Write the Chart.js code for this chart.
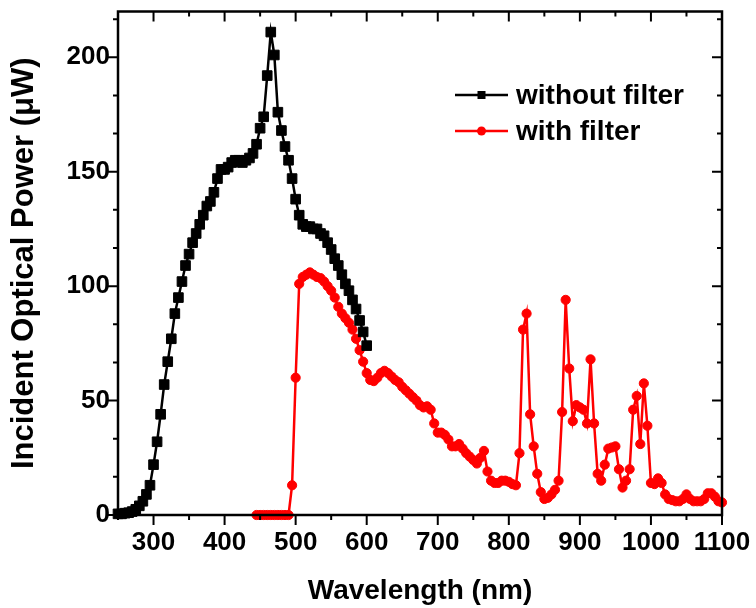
<!DOCTYPE html>
<html><head><meta charset="utf-8">
<script src="https://cdn.jsdelivr.net/npm/chart.js@4"></script>
<style>html,body{margin:0;padding:0;background:#fff;}#wrap{width:756px;height:608px;}</style>
</head><body><div id="wrap"><canvas id="c" width="756" height="608"></canvas></div>
<script>
// ---- data ----
const blackWavelength = [250,255,260,265,270,275,280,285,290,295,300,305,310,315,320,325,330,335,340,345,350,355,360,365,370,375,380,385,390,395,400,405,410,415,420,425,430,435,440,445,450,455,460,465,470,475,480,485,490,495,500,505,510,515,520,525,530,535,540,545,550,555,560,565,570,575,580,585,590,595,600];
const blackPower = [0.5,0.5,0.8,1,1.5,2.5,4,6,9,13,22,32,44,57,67,77,88,95,102,109,114,119,123,127,131,135,137,141,147,151,151,152,154,155,155,154,155,156,158,162,169,174,192,211,201,176,168,161,155,147,138,131,127,126,126,125,125,123,122,119,116,112,109,105,101,98,94,90,85,80,74];
const redWavelength = [445,450,455,460,465,470,475,480,485,490,495,500,505,510,515,520,525,530,535,540,545,550,555,560,565,570,575,580,585,590,595,600,605,610,615,620,625,630,635,640,645,650,655,660,665,670,675,680,685,690,695,700,705,710,715,720,725,730,735,740,745,750,755,760,765,770,775,780,785,790,795,800,805,810,815,820,825,830,835,840,845,850,855,860,865,870,875,880,885,890,895,900,905,910,915,920,925,930,935,940,945,950,955,960,965,970,975,980,985,990,995,1000,1005,1010,1015,1020,1025,1030,1035,1040,1045,1050,1055,1060,1065,1070,1075,1080,1085,1090,1095,1100];
const redPower = [0,0,0,0,0,0,0,0,0,0,13,60,101,104,105,106,105,104,103.5,102,100,98,95,91,88,86,84,81,77,72,67,62,59,58.5,60,62,63,62,60.5,59,58,56,54.5,53,51.5,50,48,47,47.5,46,40,36,36,35,33,30,30,31,29,27,25.5,24,22.5,25,28,19,15,14,14,15,15,14.5,13.5,13,27,81,88,44,30,18,10,7,7.5,9,11,15,45,94,64,41,48,47,46,40,68,40,18,15,22,29,29.5,30,20,12,15,20,46,52,31,57.5,39,14,13.5,16,14,9,7,6.5,6,6,7,9,7,6,6,6,7,9.5,9.5,8,6,5.5];
const seriesLabels = ['without filter', 'with filter'];
const xTickLabels = [300,400,500,600,700,800,900,1000,1100];
const yTickLabels = [0,50,100,150,200];
const xMin = 250, xMax = 1100, yMin = 0, yMax = 220;

const FONT = "'Liberation Sans', Arial, Helvetica, sans-serif";

const framePlugin = {
  id: 'frame',
  afterDatasetsDraw(chart) {
    const {ctx, chartArea: a, scales: {x, y}} = chart;
    ctx.save();
    ctx.strokeStyle = '#000';
    ctx.lineWidth = 2.5;
    ctx.lineCap = 'butt';
    ctx.strokeRect(a.left, a.top, a.right - a.left, a.bottom - a.top);
    ctx.lineWidth = 2;
    ctx.beginPath();
    for (let v = xMin; v <= xMax + 0.01; v += 50) {
      const px = x.getPixelForValue(v);
      const len = (v % 100 === 0) ? 10 : 5;
      ctx.moveTo(px, a.bottom); ctx.lineTo(px, a.bottom + len);
      ctx.moveTo(px, a.top); ctx.lineTo(px, a.top + len);
    }
    for (let i = 0; i * 50 / 3 <= yMax + 0.01; i++) {
      const v = i * 50 / 3;
      const py = y.getPixelForValue(v);
      const len = (i % 3 === 0) ? 10 : 5;
      ctx.moveTo(a.left, py); ctx.lineTo(a.left - len, py);
      ctx.moveTo(a.right, py); ctx.lineTo(a.right - len, py);
    }
    ctx.stroke();
    ctx.restore();
  }
};

const legendPlugin = {
  id: 'customLegend',
  afterDraw(chart) {
    const {ctx} = chart;
    const rows = [95, 131];
    ctx.save();
    chart.data.datasets.forEach((ds, i) => {
      const yy = rows[i];
      ctx.strokeStyle = ds.borderColor;
      ctx.lineWidth = 2.5;
      ctx.beginPath(); ctx.moveTo(455, yy); ctx.lineTo(508, yy); ctx.stroke();
      ctx.fillStyle = ds.pointBackgroundColor;
      if (ds.pointStyle === 'rect') {
        ctx.fillRect(481.5 - 4, yy - 4, 8, 8);
      } else {
        ctx.beginPath(); ctx.arc(481.5, yy, 4.5, 0, Math.PI * 2); ctx.fill();
      }
      ctx.fillStyle = '#000';
      ctx.font = "bold 28px " + FONT;
      ctx.textBaseline = 'middle';
      ctx.textAlign = 'left';
      ctx.fillText(ds.label, 516, yy + 1);
    });
    ctx.restore();
  }
};

new Chart(document.getElementById('c'), {
  type: 'line',
  data: {
    datasets: [
      {
        label: seriesLabels[0],
        data: blackWavelength.map((w, i) => ({x: w, y: blackPower[i]})),
        borderColor: '#000', backgroundColor: '#000',
        pointBackgroundColor: '#000', pointBorderColor: '#000',
        pointStyle: 'rect', pointRadius: 6.8, pointBorderWidth: 1,
        borderWidth: 2.5, tension: 0, clip: false
      },
      {
        label: seriesLabels[1],
        data: redWavelength.map((w, i) => ({x: w, y: redPower[i]})),
        borderColor: '#ff0000', backgroundColor: '#ff0000',
        pointBackgroundColor: '#ff0000', pointBorderColor: '#ff0000',
        pointStyle: 'circle', pointRadius: 4.6, pointBorderWidth: 1,
        borderWidth: 2.5, tension: 0, clip: false
      }
    ]
  },
  options: {
    responsive: false,
    animation: false,
    devicePixelRatio: 1,
    layout: {padding: {top: 11.5, right: 34, left: 0, bottom: 0}},
    plugins: {legend: {display: false}, tooltip: {enabled: false}},
    events: [],
    scales: {
      x: {
        type: 'linear', min: xMin, max: xMax,
        grid: {display: false, drawTicks: false}, border: {display: false},
        ticks: {
          stepSize: 50, autoSkip: false, maxRotation: 0, minRotation: 0, padding: 12,
          color: '#000', font: {family: FONT, size: 26, weight: 'bold'},
          callback: v => xTickLabels.includes(v) ? String(v) : ''
        },
        title: {display: true, text: 'Wavelength (nm)', color: '#000',
          font: {family: FONT, size: 28, weight: 'bold'}, padding: {top: 0, bottom: 0}},
        afterFit: s => { s.height = 93; s.paddingLeft = 0; s.paddingRight = 0; }
      },
      y: {
        type: 'linear', min: yMin, max: yMax,
        grid: {display: false, drawTicks: false}, border: {display: false},
        ticks: {
          stepSize: 50, autoSkip: false, padding: 8, includeBounds: false,
          color: '#000', font: {family: FONT, size: 26, weight: 'bold'},
          callback: v => yTickLabels.includes(v) ? String(v) : ''
        },
        title: {display: true, text: 'Incident Optical Power (\u03bcW)', color: '#000',
          font: {family: FONT, size: 31, weight: 'bold'}, padding: {top: 6, bottom: 0}},
        afterFit: s => { s.width = 118; s.paddingTop = 0; s.paddingBottom = 0; }
      }
    }
  },
  plugins: [framePlugin, legendPlugin]
});
</script>
</body></html>
